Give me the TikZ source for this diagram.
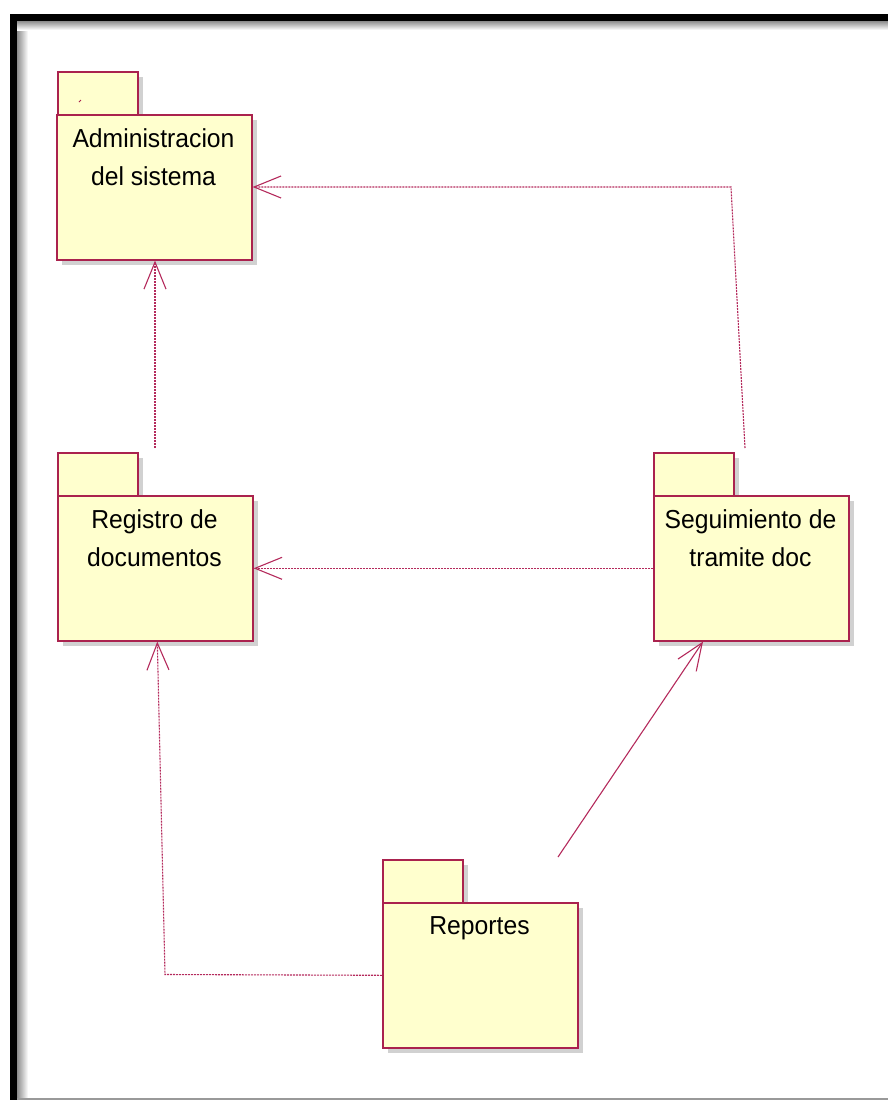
\documentclass[tikz,border=0pt]{standalone}
\usepackage{fontspec}
\setmainfont[FakeStretch=0.95]{Liberation Sans}
\usetikzlibrary{arrows.meta,shadows}
\definecolor{pkgline}{RGB}{170,34,78}
\definecolor{pkgfill}{RGB}{255,255,206}
\definecolor{depline}{RGB}{180,42,92}

\begin{document}
\begin{tikzpicture}[x=1pt,y=-1pt,
  pkgshadow/.style={drop shadow={shadow xshift=5pt,shadow yshift=-5pt,opacity=0.3,fill=black!60}},
  pkgbody/.style={draw=pkgline,fill=pkgfill,line width=1.6pt,inner sep=0pt,
    minimum width=195pt,minimum height=145pt,anchor=north west,pkgshadow},
  pkgtab/.style={draw=pkgline,fill=pkgfill,line width=1.6pt,inner sep=0pt,
    minimum width=80pt,minimum height=43pt,anchor=north west,pkgshadow},
  pkgtext/.style={font=\fontsize{26}{38}\selectfont,text=black,anchor=base,inner sep=0pt},
  dep/.style={draw=depline,line width=1.1pt,dash pattern=on 2pt off 1pt,
    -{Straight Barb[length=27pt,width=22pt]}},
  depsolid/.style={draw=depline,line width=1.1pt,
    -{Straight Barb[length=27pt,width=22pt]}}
]
\useasboundingbox (0,0) rectangle (888,1100);

% page frame: heavy black edge with a soft inner shadow
\fill[black] (10,14) rectangle (888,21);
\fill[black] (10,14) rectangle (17,1100);
\shade[left color=black!45,right color=white] (17,21) rectangle (28,1098);
\shade[top color=black!45,bottom color=white] (17,21) rectangle (888,30);
\draw[black!40,line width=1.5pt] (17,1099) -- (888,1099);

% packages
\node[pkgtab] (admin-tab) at (57,71) {};
\node[pkgbody] (admin) at (56,114) {};
\draw[pkgline,line width=0.8pt] (79,102) -- (81,100);
\node[pkgtext] (admin-t1) at (153.5,147) {Administracion};
\node[pkgtext] (admin-t2) at (153.5,185) {del sistema};

\node[pkgtab] (registro-tab) at (57,452) {};
\node[pkgbody] (registro) at (57,495) {};
\node[pkgtext] (registro-t1) at (154.5,528) {Registro de};
\node[pkgtext] (registro-t2) at (154.5,566) {documentos};

\node[pkgtab] (seguimiento-tab) at (653,452) {};
\node[pkgbody] (seguimiento) at (653,495) {};
\node[pkgtext] (seguimiento-t1) at (750.5,528) {Seguimiento de};
\node[pkgtext] (seguimiento-t2) at (750.5,566) {tramite doc};

\node[pkgtab] (reportes-tab) at (382,859) {};
\node[pkgbody] (reportes) at (382,902) {};
\node[pkgtext] (reportes-t1) at (479.5,934) {Reportes};

% dependency routes
\coordinate (r-up) at (155,448);
\coordinate (s-up) at (745,448);
\coordinate (s-bend) at (731,187);
\coordinate (p-bend) at (165,974.5);
\coordinate (p-diag) at (558,857);
\coordinate (reg-in) at ([xshift=2pt]registro.south);
\coordinate (seg-in) at ([xshift=50pt]seguimiento.south west);

\draw[dep] (r-up) -- (r-up |- admin.south);
\draw[dep] (s-up) -- (s-bend) -- (s-bend -| admin.east);
\draw[dep] (seguimiento.west) -- (registro.east);
\draw[dep] (reportes.west) -- (p-bend) -- (reg-in);
\draw[depsolid] (p-diag) -- (seg-in);
\end{tikzpicture}
\end{document}
